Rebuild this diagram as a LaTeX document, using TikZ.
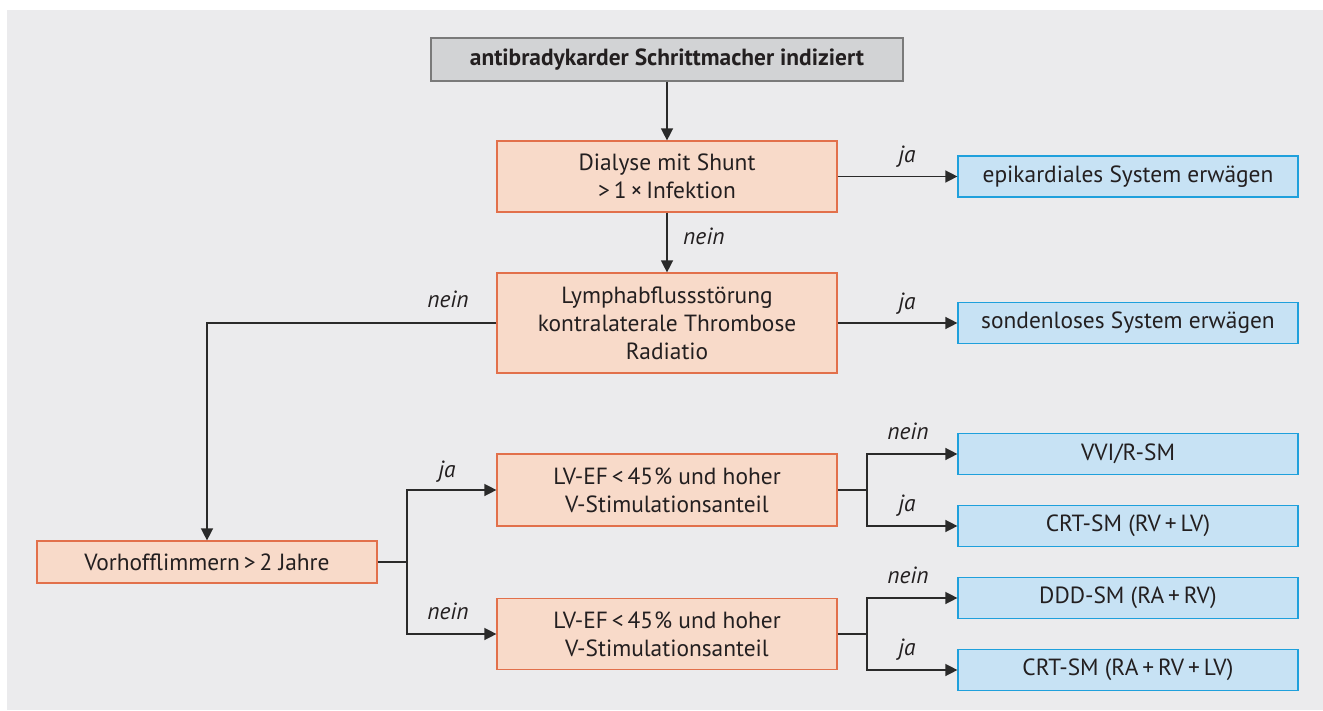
\documentclass[tikz,border=0pt]{standalone}
\usepackage{fontspec}
\setmainfont{PT Sans}
\usetikzlibrary{arrows.meta}
\definecolor{bg}{HTML}{EBEBED}
\definecolor{ofill}{HTML}{F8DAC9}
\definecolor{oline}{HTML}{E2704B}
\definecolor{bfill}{HTML}{C7E2F4}
\definecolor{bline}{HTML}{1FA0DC}
\definecolor{gfill}{HTML}{D2D3D5}
\definecolor{gline}{HTML}{7A7A7A}
\definecolor{txt}{HTML}{231F20}
\definecolor{conn}{HTML}{2A2A2A}
\begin{document}
\begin{tikzpicture}[x=1pt,y=-1pt,
  every node/.style={font=\fontsize{23.4}{28}\selectfont, text=txt, inner sep=0pt},
  obox/.style={draw=oline, fill=ofill, line width=1.2pt, minimum width=340pt, align=center},
  bbox/.style={draw=bline, fill=bfill, line width=1.2pt, minimum width=340pt, minimum height=41pt, align=center},
  gbox/.style={draw=gline, fill=gfill, line width=1.2pt, minimum width=472pt, minimum height=43pt, font=\fontsize{23.4}{28}\selectfont\bfseries},
  lab/.style={anchor=base, font=\fontsize{23.4}{28}\selectfont\itshape},
  conn/.style={draw=conn, line width=1.4pt},
  arr/.style={conn, -{Triangle[length=12pt,width=12pt]}}]
\useasboundingbox (0,0) rectangle (1323,711);
\fill[bg] (7,10) rectangle (1323,710);

\node[gbox] (top) at (667,59.5) {antibradykarder Schrittmacher indiziert};
\node[obox, minimum height=71pt] (dial) at (667,176.5) {Dialyse mit Shunt\\>\,1\,×\,Infektion};
\node[obox, minimum height=100pt] (lymph) at (667,323) {Lymphabflussstörung\\kontralaterale Thrombose\\Radiatio};
\node[bbox] (epi) at (1128,176.5) {epikardiales System erwägen};
\node[bbox] (sond) at (1128,323) {sondenloses System erwägen};
\node[obox, minimum height=42pt] (vorhof) at (207,562) {Vorhofflimmern\,>\,2 Jahre};
\node[obox, minimum height=72pt] (lv1) at (667,490) {LV-EF\,<\,45\kern1pt\% und hoher\\V-Stimulationsanteil};
\node[obox, minimum height=71pt] (lv2) at (667,634) {LV-EF\,<\,45\kern1pt\% und hoher\\V-Stimulationsanteil};
\node[bbox] (vvi) at (1128,454) {VVI/R-SM};
\node[bbox] (crt1) at (1128,526) {CRT-SM (RV\,+\,LV)};
\node[bbox] (ddd) at (1128,598) {DDD-SM (RA\,+\,RV)};
\node[bbox] (crt2) at (1128,670) {CRT-SM (RA\,+\,RV\,+\,LV)};

\coordinate (b0) at (407,562);
\coordinate (b1) at (867,490);
\coordinate (b2) at (867,634);

\draw[arr] (top.south) -- (dial.north);
\draw[arr] (dial.south) -- (lymph.north);
\draw[arr] (dial.east) -- (epi.west);
\draw[arr] (lymph.east) -- (sond.west);
\draw[arr] (lymph.west) -| (vorhof.north);
\draw[conn] (vorhof.east) -- (b0);
\draw[arr] (b0) |- (lv1.west);
\draw[arr] (b0) |- (lv2.west);
\draw[conn] (lv1.east) -- (b1);
\draw[arr] (b1) |- (vvi.west);
\draw[arr] (b1) |- (crt1.west);
\draw[conn] (lv2.east) -- (b2);
\draw[arr] (b2) |- (ddd.west);
\draw[arr] (b2) |- (crt2.west);

\node[lab, anchor=base west] (l1) at (683,245) {nein};
\node[lab] (l2) at (907,163) {ja};
\node[lab] (l3) at (907,310) {ja};
\node[lab] (l4) at (448,308) {nein};
\node[lab] (l5) at (447,477) {ja};
\node[lab] (l6) at (448,619) {nein};
\node[lab] (l7) at (908,439) {nein};
\node[lab] (l8) at (907,511) {ja};
\node[lab] (l9) at (908,583) {nein};
\node[lab] (l10) at (907,655) {ja};
\end{tikzpicture}
\end{document}
